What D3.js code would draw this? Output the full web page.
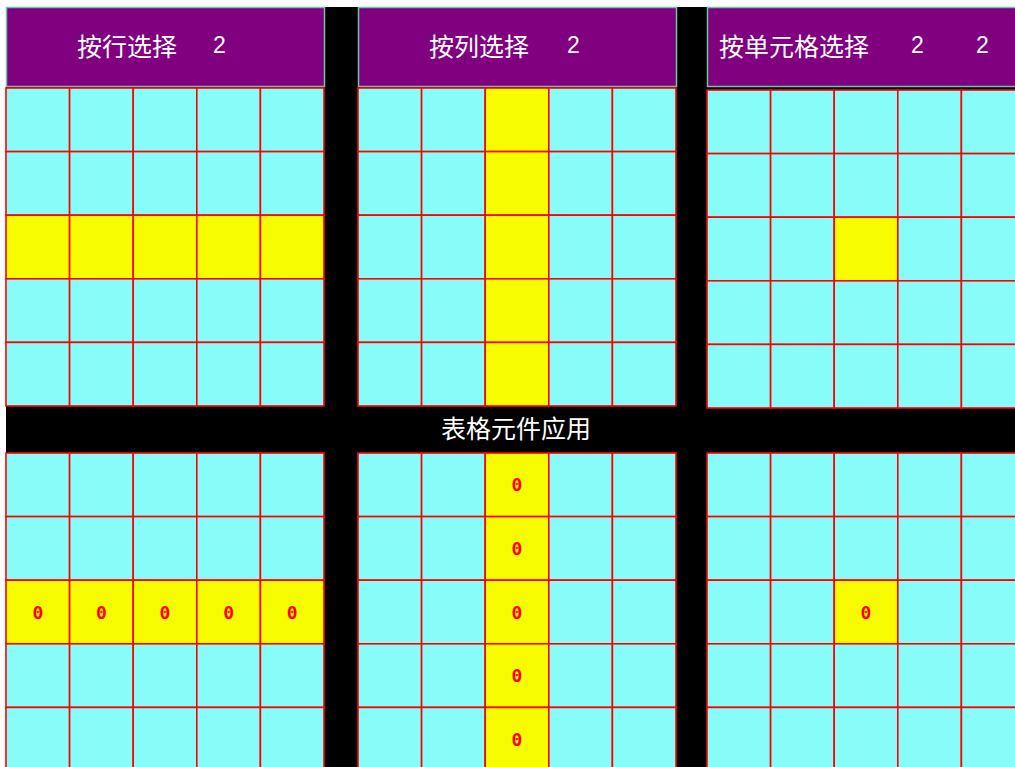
<!DOCTYPE html>
<html>
<head>
<meta charset="utf-8">
<script src="https://cdn.jsdelivr.net/npm/d3@7"></script>
<style>
  html, body { margin: 0; padding: 0; background: #ffffff; overflow: hidden; }
  svg { display: block; }
</style>
</head>
<body>
<svg id="chart" width="1015" height="767"></svg>
<script>
// ---- data ----
const panelLabels = ["按行选择", "按列选择", "按单元格选择"];
const panelNumbers = [["2"], ["2"], ["2", "2"]];
const selectionModes = ["row", "col", "cell"];
const gridRows = ["r0", "r1", "r2", "r3", "r4"];
const gridCols = ["c0", "c1", "c2", "c3", "c4"];
const selectedRow = 2;
const selectedCol = 2;
const cellValue = "0";
const centerTitle = "表格元件应用";

// ---- layout ----
const W = 1015, H = 767;
const panelX = [6, 358, 707];
const panelW = 318;
const headerY = 7, headerH = 79;
const topGridY = [88, 88, 90];
const gridH = 318;
const bottomGridY = 453;
const labelOffset = [72, 72, 13];
const numberOffset = [[207], [209], [204, 269]];

const C = {
  bg: "#000000",
  header: "#800080",
  headerStroke: "#66c8a8",
  cell: "#88fcf8",
  sel: "#f8fc00",
  line: "#ff0000",
  text: "#ffffff",
  val: "#ff0000"
};
const cjk = "'Noto Sans CJK SC', 'Noto Sans', sans-serif";

const svg = d3.select("#chart");
svg.append("rect").attr("x", 6).attr("y", 7).attr("width", W).attr("height", H).attr("fill", C.bg);

function isSel(mode, r, c) {
  if (mode === "row") return r === selectedRow;
  if (mode === "col") return c === selectedCol;
  return r === selectedRow && c === selectedCol;
}

panelLabels.forEach((label, i) => {
  const x0 = panelX[i];
  const g = svg.append("g");
  // header
  g.append("rect")
    .attr("x", x0 + 0.5).attr("y", headerY + 0.5)
    .attr("width", panelW).attr("height", headerH)
    .attr("fill", C.header).attr("stroke", C.headerStroke).attr("stroke-width", 1.5);
  g.append("text")
    .attr("x", x0 + labelOffset[i] - 1).attr("y", headerY + headerH / 2 - 2)
    .attr("dominant-baseline", "central")
    .attr("fill", C.text).attr("font-family", cjk).attr("font-size", 25)
    .text(label);
  panelNumbers[i].forEach((n, k) => {
    g.append("text")
      .attr("x", x0 + numberOffset[i][k]).attr("y", headerY + headerH / 2 - 2)
      .attr("dominant-baseline", "central")
      .attr("fill", C.text).attr("font-family", "'Liberation Sans', Arial, sans-serif").attr("font-size", 23)
      .text(n);
  });

  const xs = d3.scaleBand().domain(gridCols).range([x0, x0 + panelW]);
  const cells = [];
  gridRows.forEach((r, ri) => gridCols.forEach((c, ci) => cells.push({ r, c, ri, ci })));

  [topGridY[i], bottomGridY].forEach((gy, gi) => {
    const ys = d3.scaleBand().domain(gridRows).range([gy, gy + gridH]);
    const gg = g.append("g");
    gg.selectAll("rect").data(cells).join("rect")
      .attr("x", d => xs(d.c)).attr("y", d => ys(d.r))
      .attr("width", xs.bandwidth()).attr("height", ys.bandwidth())
      .attr("fill", d => isSel(selectionModes[i], d.ri, d.ci) ? C.sel : C.cell)
      .attr("stroke", C.line).attr("stroke-width", 1.6);
    if (gi === 1) {
      gg.selectAll("text").data(cells.filter(d => isSel(selectionModes[i], d.ri, d.ci))).join("text")
        .attr("x", d => xs(d.c) + xs.bandwidth() / 2)
        .attr("y", d => ys(d.r) + ys.bandwidth() / 2)
        .attr("text-anchor", "middle").attr("dominant-baseline", "central")
        .attr("fill", C.val).attr("font-weight", "bold")
        .attr("font-family", "'DejaVu Sans Mono', monospace").attr("font-size", 18)
        .text(cellValue);
    }
  });
});

svg.append("text")
  .attr("x", (panelX[1] + panelX[1] + panelW) / 2 - 1).attr("y", 427)
  .attr("text-anchor", "middle").attr("dominant-baseline", "central")
  .attr("fill", C.text).attr("font-family", cjk).attr("font-size", 25)
  .text(centerTitle);
</script>
</body>
</html>
